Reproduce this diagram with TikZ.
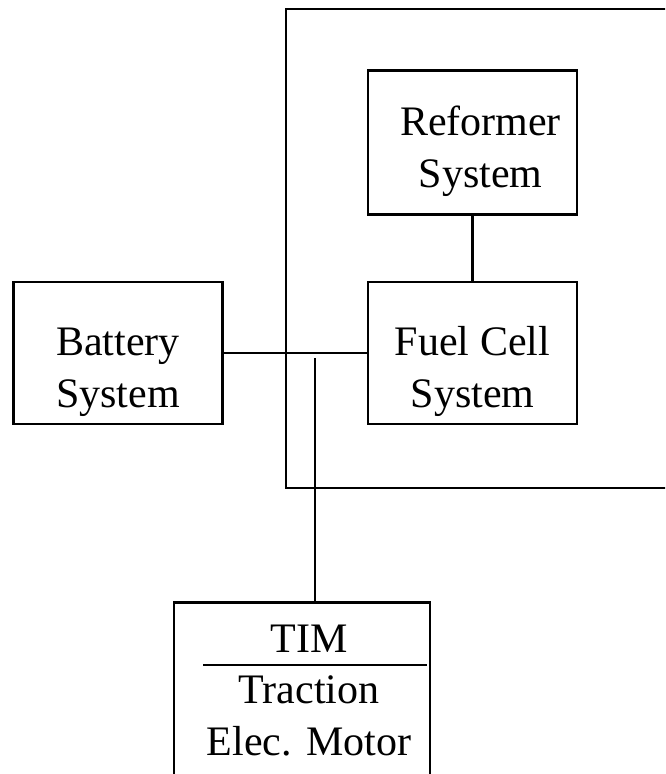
\documentclass[tikz,border=0pt]{standalone}
\usepackage{fontspec}
\setmainfont{Liberation Serif}
\usetikzlibrary{positioning}

\begin{document}
\begin{tikzpicture}[
    x=1pt, y=-1pt, line width=2.5pt,
    unit/.style={draw, rectangle, align=center, minimum width=209pt, minimum height=142pt, inner sep=0pt,
      text height=108pt, text depth=0pt, font=\fontsize{42}{52}\selectfont},
    txt/.style={font=\fontsize{42}{52}\selectfont, align=center, inner sep=0pt}
  ]
    \useasboundingbox (0,0) rectangle (665,774);
    \clip (0,0) rectangle (665,774);
    % fuel cell enclosure
    \draw (700,9) -- (286,9) -- (286,488) -- (700,488);
    \node[unit] (batt) at (118,353) {Battery\\System};
    \node[unit, right=143pt of batt] (fc) {Fuel Cell\\System};
    \node[unit, minimum height=144pt, text height=90pt, above=65pt of fc] (ref) {\hspace*{16pt}Reformer\\\hspace*{16pt}System};
    \node[unit, minimum width=256pt, minimum height=260pt, anchor=north] (tim) at (302,601) {};
    \node[txt, anchor=base] (timtxt) at (309,652) {TIM};
    \node[txt, anchor=base] (motor) at (309,755) {Traction\\Elec. Motor};
    \draw (203,665) -- (427,665);
    \coordinate (tap) at (315,358);
    \draw (batt) -- (fc);
    \draw (ref) -- (fc);
    \draw (tap) -- (tap |- tim.north);
  \end{tikzpicture}
\end{document}
